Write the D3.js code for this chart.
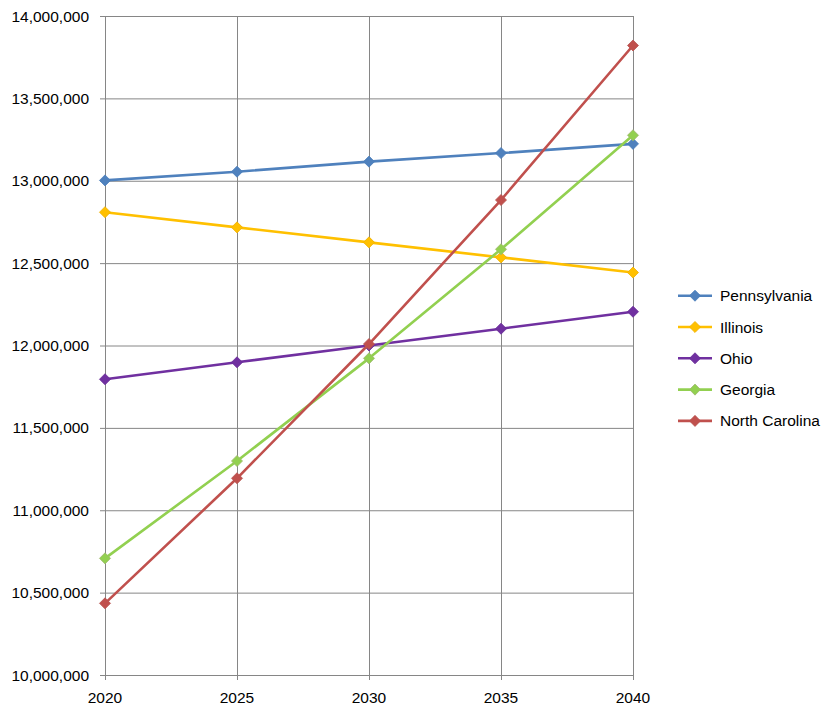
<!DOCTYPE html>
<html><head><meta charset="utf-8">
<script src="https://cdn.jsdelivr.net/npm/d3@7"></script>
<style>body{margin:0;background:#fff}svg{display:block}</style>
</head><body>
<script>
const years = [2020, 2025, 2030, 2035, 2040];
const seriesNames = ["Pennsylvania", "Illinois", "Ohio", "Georgia", "North Carolina"];
const pennsylvania = [13002000, 13055000, 13116000, 13168000, 13224000];
const illinois = [12809000, 12717000, 12626000, 12535000, 12443000];
const ohio = [11795000, 11898000, 12000000, 12102000, 12205000];
const georgia = [10708000, 11299000, 11922000, 12584000, 13276000];
const northCarolina = [10435000, 11194000, 12009000, 12883000, 13821000];
const yTicks = [10000000, 10500000, 11000000, 11500000, 12000000, 12500000, 13000000, 13500000, 14000000];
const colors = ["#4F81BD", "#FFC000", "#7030A0", "#92D050", "#C0504D"];
const strokeColors = ["#4A7EBB", "#F0B000", "#6A2C98", "#A0B870", "#B85450"];

const W = 831, H = 711;
const svg = d3.select("body").append("svg").attr("width", W).attr("height", H);
const font = "'Liberation Sans', Arial, sans-serif";
const fs = 15.5;

const x = d3.scaleLinear().domain([2020, 2040]).range([105, 633]);
const y = d3.scaleLinear().domain([10000000, 14000000]).range([675, 16]);

// grid
svg.append("g").selectAll("line").data(yTicks).join("line")
  .attr("x1", 100).attr("x2", 633)
  .attr("y1", d => y(d) + 0.5).attr("y2", d => y(d) + 0.5)
  .attr("stroke", "#868686").attr("stroke-width", 1);
svg.append("g").selectAll("line").data(years).join("line")
  .attr("x1", d => Math.round(x(d)) + 0.5).attr("x2", d => Math.round(x(d)) + 0.5)
  .attr("y1", 16).attr("y2", 680)
  .attr("stroke", "#868686").attr("stroke-width", 1);

// axes labels
const fmt = d3.format(",");
svg.append("g").selectAll("text").data(yTicks).join("text")
  .attr("x", 89).attr("y", d => y(d) + 5.5)
  .attr("text-anchor", "end").attr("font-family", font).attr("font-size", fs)
  .attr("fill", "#000").text(d => fmt(d));
svg.append("g").selectAll("text").data(years).join("text")
  .attr("x", d => x(d)).attr("y", 703)
  .attr("text-anchor", "middle").attr("font-family", font).attr("font-size", fs)
  .attr("fill", "#000").text(d => d);

const allSeries = [pennsylvania, illinois, ohio, georgia, northCarolina];
const line = d3.line().x((d, i) => x(years[i])).y(d => y(d));
const diamond = d3.symbol().type(d3.symbolDiamond2).size(78);

allSeries.forEach((vals, si) => {
  const g = svg.append("g");
  g.append("path").datum(vals).attr("d", line)
    .attr("fill", "none").attr("stroke", colors[si]).attr("stroke-width", 2.6)
    .attr("stroke-linejoin", "round");
  g.selectAll("path.m").data(vals).join("path").attr("class", "m")
    .attr("d", diamond)
    .attr("transform", (d, i) => `translate(${x(years[i])},${y(d)})`)
    .attr("fill", colors[si]).attr("stroke", strokeColors[si]).attr("stroke-width", 0.8);
});

// legend
const leg = svg.append("g");
seriesNames.forEach((name, i) => {
  const ly = 295.7 + i * 31.3;
  leg.append("line").attr("x1", 678).attr("x2", 712).attr("y1", ly).attr("y2", ly)
    .attr("stroke", colors[i]).attr("stroke-width", 2.6);
  leg.append("path").attr("d", diamond).attr("transform", `translate(695,${ly})`)
    .attr("fill", colors[i]).attr("stroke", strokeColors[i]).attr("stroke-width", 0.8);
  leg.append("text").attr("x", 720).attr("y", ly + 5.5)
    .attr("font-family", font).attr("font-size", fs).attr("fill", "#000").text(name);
});
</script>
</body></html>
